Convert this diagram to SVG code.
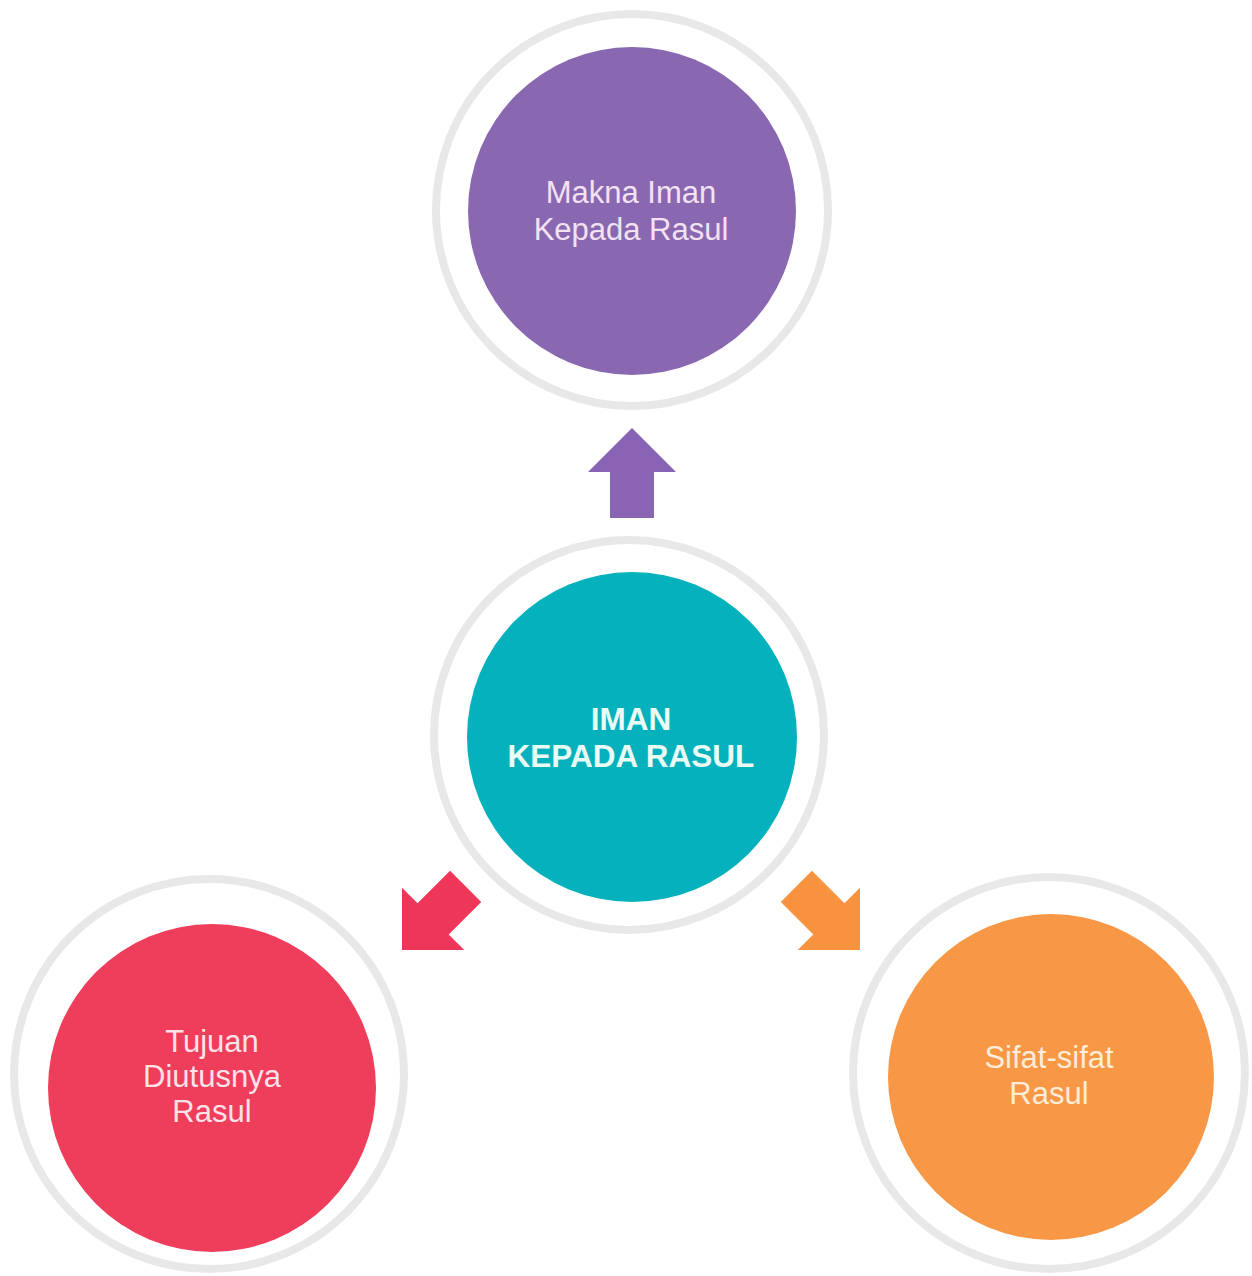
<svg xmlns="http://www.w3.org/2000/svg" xmlns:xlink="http://www.w3.org/1999/xlink" width="1252" height="1276" viewBox="0 0 1252 1276">
  <defs>
    <style>
      .ring { fill: #ffffff; stroke: #e8e8e8; stroke-width: 8; }
      .lbl { font-family: "Liberation Sans", Arial, sans-serif; font-size: 31px; text-anchor: middle; }
      .bold { font-weight: bold; font-size: 31.5px; }
    </style>
    <path id="arrowShape" d="M0,0 L44,44 L22,44 L22,90 L-22,90 L-22,44 L-44,44 Z"/>
  </defs>
  <rect width="1252" height="1276" fill="#ffffff"/>

  <g id="connectors">
    <use xlink:href="#arrowShape" href="#arrowShape" fill="#8a64b4" transform="translate(632,428)"/>
    <use xlink:href="#arrowShape" href="#arrowShape" fill="#ee3658" transform="translate(402,950) rotate(-135)"/>
    <use xlink:href="#arrowShape" href="#arrowShape" fill="#f7933f" transform="translate(860,950) rotate(135)"/>
  </g>

  <g id="node-makna">
    <circle class="ring" cx="632" cy="210" r="196"/>
    <circle cx="632" cy="211" r="164" fill="#8a67b1"/>
    <text class="lbl" x="631" y="203" fill="#f2e2f2">Makna Iman</text>
    <text class="lbl" x="631" y="240" fill="#f2e2f2">Kepada Rasul</text>
  </g>

  <g id="node-iman">
    <circle class="ring" cx="629" cy="735" r="195"/>
    <circle cx="632" cy="737" r="165" fill="#05b1bc"/>
    <text class="lbl bold" x="631" y="730" fill="#eafcf6">IMAN</text>
    <text class="lbl bold" x="631" y="767" fill="#eafcf6">KEPADA RASUL</text>
  </g>

  <g id="node-tujuan">
    <circle class="ring" cx="209" cy="1074" r="195"/>
    <circle cx="212" cy="1088" r="164" fill="#ef3d5c"/>
    <text class="lbl" x="212" y="1052" fill="#fde2e8">Tujuan</text>
    <text class="lbl" x="212" y="1087" fill="#fde2e8">Diutusnya</text>
    <text class="lbl" x="212" y="1122" fill="#fde2e8">Rasul</text>
  </g>

  <g id="node-sifat">
    <circle class="ring" cx="1049" cy="1073" r="196"/>
    <circle cx="1051" cy="1077" r="163" fill="#f89847"/>
    <text class="lbl" x="1049" y="1068" fill="#fdecd8">Sifat-sifat</text>
    <text class="lbl" x="1049" y="1104" fill="#fdecd8">Rasul</text>
  </g>
</svg>
